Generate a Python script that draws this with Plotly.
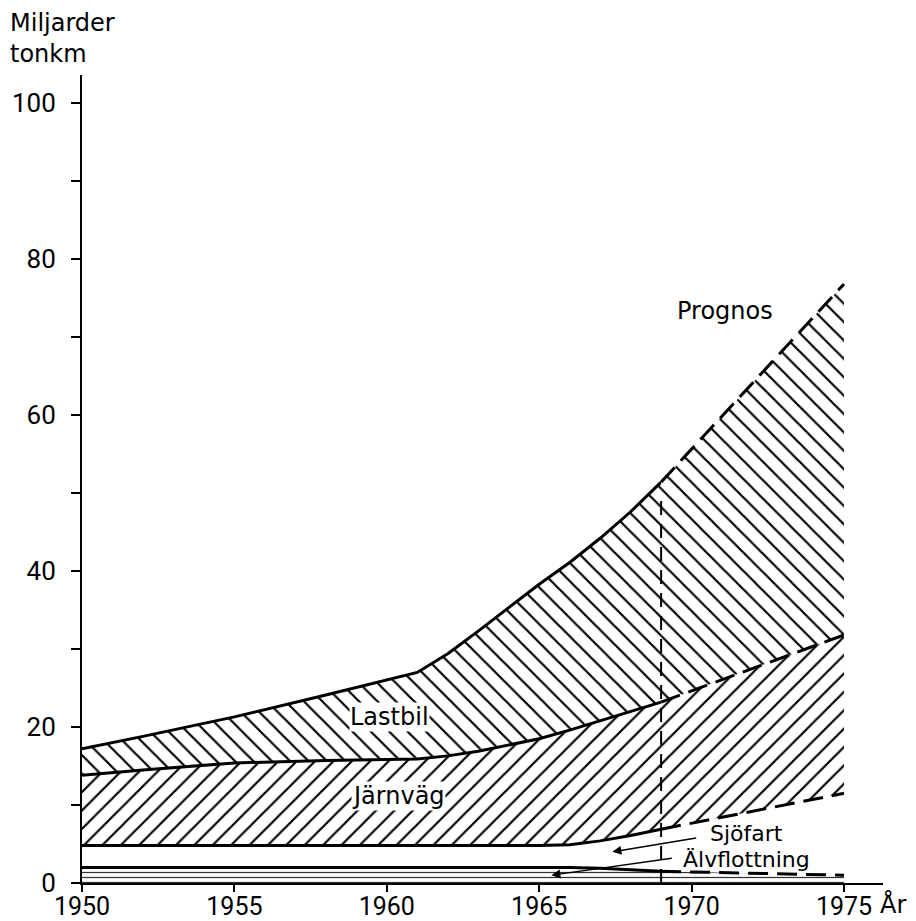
import numpy as np
import plotly.graph_objects as go

# ---------------- data ----------------
# Historical period, values per transport mode (miljarder tonkm)
years_hist = [1950, 1952, 1955, 1958, 1961, 1962, 1963, 1964, 1965, 1966, 1967, 1968, 1969]
alvflottning_hist = [2.0, 2.0, 2.0, 2.0, 2.0, 2.0, 2.0, 2.0, 2.0, 2.0, 1.9, 1.7, 1.5]
sjofart_hist = [2.8, 2.8, 2.8, 2.8, 2.8, 2.8, 2.8, 2.8, 2.8, 2.9, 3.5, 4.4, 5.4]
jarnvag_hist = [9.0, 9.7, 10.6, 10.9, 11.1, 11.5, 12.1, 12.9, 13.7, 14.7, 15.4, 15.9, 16.3]
lastbil_hist = [3.4, 4.3, 5.9, 8.4, 11.1, 13.1, 15.4, 17.6, 19.8, 21.5, 23.4, 25.6, 28.2]

# Prognosis period
years_prog = [1969, 1975]
alvflottning_prog = [1.5, 1.0]
sjofart_prog = [5.4, 10.5]
jarnvag_prog = [16.3, 20.3]
lastbil_prog = [28.2, 45.0]

prognos_start = 1969
prognos_divider_top = 49

x_ticks = [1950, 1955, 1960, 1965, 1970, 1975]
y_ticks = [0, 10, 20, 30, 40, 50, 60, 70, 80, 90, 100]
y_ticktext = ["0", "", "20", "", "40", "", "60", "", "80", "", "100"]

TEXT_FONT = "DejaVu Sans"
NUM_FONT = "Roboto"
BLACK = "black"

fig = go.Figure()


def add_stack(years, alv, sjo, jarn, last, dash):
    layers = [
        ("Älvflottning", alv, dict(shape="-", size=5, solidity=0.25, fgcolor="#333",
                                   bgcolor="white", fgopacity=1)),
        ("Sjöfart", sjo, None),
        ("Järnväg", jarn, dict(shape="/", size=13, solidity=0.17, fgcolor=BLACK,
                               bgcolor="white", fgopacity=1)),
        ("Lastbil", last, dict(shape="\\", size=13, solidity=0.17, fgcolor=BLACK,
                               bgcolor="white", fgopacity=1)),
    ]
    cum = np.zeros(len(years))
    fig.add_trace(go.Scatter(x=years, y=cum.copy(), mode="lines",
                             line=dict(width=0, color=BLACK), showlegend=False,
                             hoverinfo="skip"))
    for name, vals, pat in layers:
        cum = cum + np.array(vals, dtype=float)
        kw = dict(x=years, y=cum.copy(), mode="lines", name=name,
                  line=dict(color=BLACK, width=3, dash=dash),
                  fill="tonexty", showlegend=False)
        if pat is None:
            kw["fillcolor"] = "rgba(0,0,0,0)"
        else:
            kw["fillcolor"] = "white"
            kw["fillpattern"] = pat
        fig.add_trace(go.Scatter(**kw))


add_stack(years_hist, alvflottning_hist, sjofart_hist, jarnvag_hist, lastbil_hist, "solid")
add_stack(years_prog, alvflottning_prog, sjofart_prog, jarnvag_prog, lastbil_prog, "20px,9px")

# vertical divider marking the start of the prognosis
fig.add_trace(go.Scatter(x=[prognos_start, prognos_start], y=[0, prognos_divider_top],
                         mode="lines", line=dict(color=BLACK, width=2, dash="14px,9px"),
                         showlegend=False, hoverinfo="skip"))

labels = [
    ("Lastbil", 1960.1, 21.3, True, 24),
    ("Järnväg", 1960.4, 11.1, True, 24),
    ("Prognos", 1971.1, 73.3, False, 24),
    ("Sjöfart", 1971.8, 6.4, False, 22),
    ("Älvflottning", 1971.8, 3.0, False, 22),
]
for txt, x, y, bg, fs in labels:
    fig.add_annotation(x=x, y=y, text=txt, showarrow=False,
                       font=dict(family=TEXT_FONT, size=fs, color=BLACK),
                       bgcolor="white" if bg else None, borderpad=0)

# arrows from labels to the bands
arrows = [
    (1967.4, 4.0, 1970.2, 5.8),   # Sjöfart
    (1965.4, 1.0, 1969.4, 3.2),   # Älvflottning
]
for x, y, ax, ay in arrows:
    fig.add_annotation(x=x, y=y, ax=ax, ay=ay, xref="x", yref="y", axref="x", ayref="y",
                       text="", showarrow=True, arrowhead=2, arrowsize=1.2,
                       arrowwidth=1.5, arrowcolor=BLACK)

fig.add_annotation(xref="paper", yref="paper", x=-0.0924, y=1.084,
                   xanchor="left", yanchor="top", align="left",
                   text="Miljarder<br>tonkm", showarrow=False,
                   font=dict(family=TEXT_FONT, size=24, color=BLACK))
fig.add_annotation(xref="paper", yref="paper", x=1.0125, y=-0.026,
                   xanchor="center", yanchor="middle",
                   text="År", showarrow=False,
                   font=dict(family=TEXT_FONT, size=24, color=BLACK))

fig.update_layout(
    width=916, height=921, autosize=False,
    margin=dict(l=82, r=33, t=75, b=38, autoexpand=False),
    paper_bgcolor="white", plot_bgcolor="white",
    font=dict(family=TEXT_FONT, size=25, color=BLACK),
    showlegend=False,
)
fig.update_xaxes(range=[1950, 1976.28], showgrid=False, zeroline=False, automargin=False,
                 showline=True, linecolor=BLACK, linewidth=2,
                 tickmode="array", tickvals=x_ticks,
                 ticks="outside", ticklen=7, tickwidth=2, tickcolor=BLACK,
                 ticklabelstandoff=-7,
                 tickfont=dict(family=NUM_FONT, size=25, color=BLACK))
fig.update_yaxes(range=[0, 103.6], showgrid=False, zeroline=False, automargin=False,
                 showline=True, linecolor=BLACK, linewidth=2,
                 tickmode="array", tickvals=y_ticks, ticktext=y_ticktext,
                 ticks="outside", ticklen=9, tickwidth=2, tickcolor=BLACK,
                 ticklabelstandoff=10,
                 tickfont=dict(family=NUM_FONT, size=26, color=BLACK))

fig.write_html("out.html", config={"displayModeBar": False},
               post_script="document.body.style.margin='0';document.body.style.overflow='hidden';")
